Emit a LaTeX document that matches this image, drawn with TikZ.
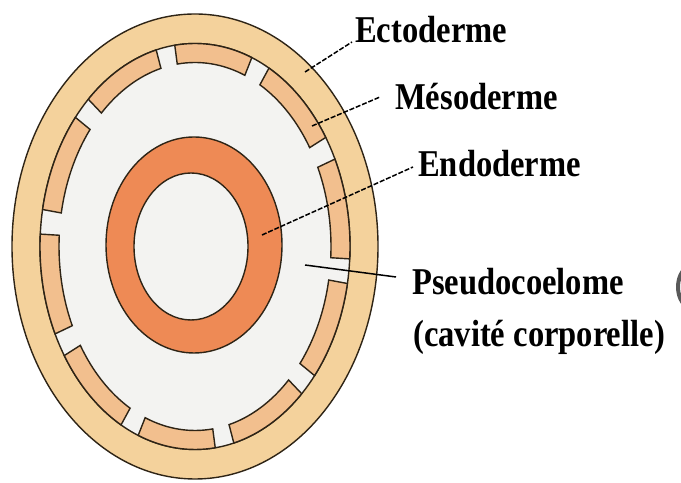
\documentclass[tikz,border=0pt]{standalone}
\usepackage{fontspec}
\newfontfamily\lblfont[FakeStretch=0.86]{Liberation Serif}
\usetikzlibrary{calc}
\definecolor{ectoC}{HTML}{F4D29C}
\definecolor{mesoC}{HTML}{F2BF8E}
\definecolor{endoC}{HTML}{EE8A55}
\definecolor{cavC}{HTML}{F3F3F1}
\definecolor{lineC}{HTML}{2E2416}
\begin{document}
\begin{tikzpicture}[x=1bp,y=1bp,
  tissue/.style={draw=lineC, line width=1.4bp},
  lbl/.style={anchor=base west, inner sep=0pt, text=black,
    font=\lblfont\bfseries\fontsize{38}{44}\selectfont},
  leader/.style={draw=black, line width=1.5bp, dash pattern=on 5bp off 1.8bp},
  leaderSolid/.style={draw=black, line width=1.5bp}]
\useasboundingbox (0,0) rectangle (681,483);
\fill[white] (0,0) rectangle (681,483);
\coordinate (C) at (195,236.5);

% ectoderm: outer wall of the body
\path[tissue, fill=ectoC] (C) ellipse [x radius=183, y radius=232.5];
% pseudocoelome: body cavity inside the ectoderm
\path[tissue, fill=cavC] (C) ellipse [x radius=155, y radius=203];

% mesoderm: ten separate bands lining the ectoderm
\foreach \k in {0,...,9}{
  \pgfmathsetmacro{\a}{101-36*(\k+1)+3.5}
  \pgfmathsetmacro{\b}{101-36*\k-3.5}
  \path[tissue, fill=mesoC]
    ($(C)+(\a:155 and 203)$)
    arc[start angle=\a, end angle=\b, x radius=155, y radius=203]
    -- ($(C)+(\b:136 and 184)$)
    arc[start angle=\b, end angle=\a, x radius=136, y radius=184]
    -- cycle;
}

% endoderm: the gut tube
\path[tissue, fill=endoC] (194,238) ellipse [x radius=88, y radius=108];
\path[tissue, fill=cavC] (191,236.5) ellipse [x radius=57, y radius=73.5];

% edge of a neighbouring figure
\draw[line width=4bp, black!65] (692,196) ellipse [x radius=14, y radius=21];

% labels
\node[lbl] (ectoLbl) at (355,440) {Ectoderme};
\node[lbl] (mesoLbl) at (395,373) {Mésoderme};
\node[lbl] (endoLbl) at (418,306) {Endoderme};
\node[lbl] (pseudoLbl) at (412,188) {Pseudocoelome};
\node[lbl] (cavLbl) at (413,136) {(cavité corporelle)};

% leader tips on the structures
\coordinate (ectoTip) at (305,411);
\coordinate (mesoTip) at (312,357);
\coordinate (endoTip) at (262,248);
\coordinate (pseudoTip) at (305,218);

\draw[leader] (ectoTip) -- ($(ectoLbl.base west)+(-3,1)$);
\draw[leader] (mesoTip) -- ($(mesoLbl.base west)+(-15,13)$);
\draw[leader] (endoTip) -- ($(endoLbl.base west)+(-5,10)$);
\draw[leaderSolid] (pseudoTip) -- ($(pseudoLbl.base west)+(-16,18)$);
\end{tikzpicture}
\end{document}
